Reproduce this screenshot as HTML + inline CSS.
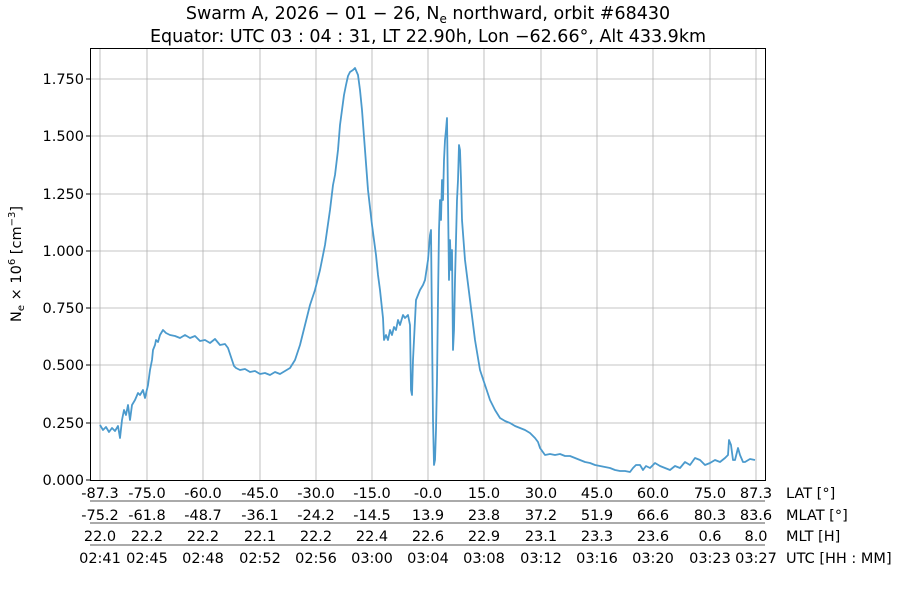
<!DOCTYPE html>
<html><head><meta charset="utf-8"><style>
body{margin:0;background:#fff;}
svg{font-family:"DejaVu Sans","Liberation Sans",sans-serif;}
</style></head><body>
<svg width="900" height="600" xmlns="http://www.w3.org/2000/svg">
<rect width="900" height="600" fill="#fff"/>
<g font-size="17.5" text-anchor="middle" fill="#000">
<text x="428" y="19">Swarm A,  2026 − 01 − 26,  N<tspan font-size="12" dy="4">e</tspan><tspan dy="-4"> northward,  orbit #68430</tspan></text>
<text x="428" y="42">Equator:  UTC 03 : 04 : 31,  LT 22.90h,  Lon  −62.66°,  Alt 433.9km</text>
</g>
<g stroke="#b0b0b0" stroke-width="0.8">
<line x1="147" y1="48" x2="147" y2="480"/><line x1="203" y1="48" x2="203" y2="480"/>
<line x1="260" y1="48" x2="260" y2="480"/><line x1="316" y1="48" x2="316" y2="480"/>
<line x1="372" y1="48" x2="372" y2="480"/><line x1="428" y1="48" x2="428" y2="480"/>
<line x1="484" y1="48" x2="484" y2="480"/><line x1="541" y1="48" x2="541" y2="480"/>
<line x1="597" y1="48" x2="597" y2="480"/><line x1="653" y1="48" x2="653" y2="480"/>
<line x1="710" y1="48" x2="710" y2="480"/><line x1="100" y1="48" x2="100" y2="480"/><line x1="756" y1="48" x2="756" y2="480"/>
<line x1="90" y1="423" x2="765" y2="423"/><line x1="90" y1="365" x2="765" y2="365"/>
<line x1="90" y1="308" x2="765" y2="308"/><line x1="90" y1="251" x2="765" y2="251"/>
<line x1="90" y1="194" x2="765" y2="194"/><line x1="90" y1="136" x2="765" y2="136"/>
<line x1="90" y1="79" x2="765" y2="79"/>
</g>
<polyline fill="none" stroke="#4b9acd" stroke-width="1.8" stroke-linejoin="round" points="100,425 103,430 106,427 109,432 112,428 115,431 118,426 120,438 122,420 124,410 126,415 128,405 130,420 132,405 135,400 138,393 140,395 143,390 145,398 148,385 150,370 152,360 153,350 155,345 156,340 158,342 160,335 163,330 166,333 170,335 175,336 180,338 185,335 190,338 195,336 200,341 205,340 210,343 215,339 220,345 225,344 228,348 230,354 232,360 234,366 236,368 240,370 245,369 250,372 255,371 260,374 265,373 270,375 275,372 280,374 285,371 290,368 295,360 300,345 305,325 310,305 315,290 320,270 325,245 330,210 333,185 335,175 338,150 340,125 342,110 344,95 346,85 348,76 350,72 353,70 355,68 358,75 360,90 362,110 365,150 368,190 372,225 376,255 378,275 380,290 383,318 384,340 386,335 388,340 390,330 392,335 394,327 396,330 398,320 400,325 403,315 405,318 408,315 410,325 411,390 412,395 413,360 414,340 416,300 418,295 420,290 423,285 425,280 428,260 430,235 431,230 432,330 433,420 434,465 435,460 436,430 437,380 438,300 439,230 440,200 441,220 442,180 443,200 444,160 445,140 446,130 447,118 448,200 449,280 450,240 451,270 452,250 453,350 454,330 455,280 456,240 457,200 458,180 459,145 460,150 461,180 462,220 465,260 470,300 475,340 480,370 485,385 490,400 495,410 500,418 505,421 510,423 515,426 520,428 525,430 530,433 535,438 538,442 540,448 545,455 550,454 555,455 560,454 565,456 570,456 575,458 580,460 585,462 590,463 595,465 600,466 605,467 610,468 615,470 620,471 625,471 630,472 633,468 636,465 640,465 643,470 646,466 650,468 655,463 660,466 665,468 670,470 675,466 680,468 685,462 690,465 695,458 700,460 705,465 710,463 715,460 720,462 725,458 728,455 729,440 731,445 733,460 735,460 738,448 740,455 743,462 745,462 750,459 755,460"/>
<rect x="90.5" y="48.5" width="675" height="432" fill="none" stroke="#000" stroke-width="1"/>
<g font-size="14.5" text-anchor="end" fill="#000">
<text x="84" y="485">0.000</text><text x="84" y="428">0.250</text><text x="84" y="370">0.500</text>
<text x="84" y="313">0.750</text><text x="84" y="256">1.000</text><text x="84" y="199">1.250</text>
<text x="84" y="141">1.500</text><text x="84" y="84">1.750</text>
</g>
<g stroke="#000"><line x1="86" y1="480" x2="90" y2="480"/><line x1="86" y1="423" x2="90" y2="423"/><line x1="86" y1="365" x2="90" y2="365"/><line x1="86" y1="308" x2="90" y2="308"/><line x1="86" y1="251" x2="90" y2="251"/><line x1="86" y1="194" x2="90" y2="194"/><line x1="86" y1="136" x2="90" y2="136"/><line x1="86" y1="79" x2="90" y2="79"/></g>
<text transform="translate(21,264) rotate(-90)" font-size="14.5" text-anchor="middle">N<tspan font-size="10" dy="3">e</tspan><tspan dy="-3"> × 10</tspan><tspan font-size="10" dy="-6">6</tspan><tspan dy="6"> [cm</tspan><tspan font-size="10" dy="-6">−3</tspan><tspan dy="6">]</tspan></text>
<g stroke="#555" stroke-width="1"><line x1="90" y1="501" x2="765" y2="501"/><line x1="90" y1="523" x2="765" y2="523"/><line x1="90" y1="545" x2="765" y2="545"/></g>
<g font-size="14.5" text-anchor="middle" fill="#000">
<text y="498"><tspan x="100">-87.3</tspan><tspan x="147">-75.0</tspan><tspan x="203">-60.0</tspan><tspan x="260">-45.0</tspan><tspan x="316">-30.0</tspan><tspan x="372">-15.0</tspan><tspan x="428">-0.0</tspan><tspan x="484">15.0</tspan><tspan x="541">30.0</tspan><tspan x="597">45.0</tspan><tspan x="653">60.0</tspan><tspan x="710">75.0</tspan><tspan x="756">87.3</tspan></text>
<text y="520"><tspan x="100">-75.2</tspan><tspan x="147">-61.8</tspan><tspan x="203">-48.7</tspan><tspan x="260">-36.1</tspan><tspan x="316">-24.2</tspan><tspan x="372">-14.5</tspan><tspan x="428">13.9</tspan><tspan x="484">23.8</tspan><tspan x="541">37.2</tspan><tspan x="597">51.9</tspan><tspan x="653">66.6</tspan><tspan x="710">80.3</tspan><tspan x="756">83.6</tspan></text>
<text y="541"><tspan x="100">22.0</tspan><tspan x="147">22.2</tspan><tspan x="203">22.2</tspan><tspan x="260">22.1</tspan><tspan x="316">22.2</tspan><tspan x="372">22.4</tspan><tspan x="428">22.6</tspan><tspan x="484">22.9</tspan><tspan x="541">23.1</tspan><tspan x="597">23.3</tspan><tspan x="653">23.6</tspan><tspan x="710">0.6</tspan><tspan x="756">8.0</tspan></text>
<text y="563"><tspan x="100">02:41</tspan><tspan x="147">02:45</tspan><tspan x="203">02:48</tspan><tspan x="260">02:52</tspan><tspan x="316">02:56</tspan><tspan x="372">03:00</tspan><tspan x="428">03:04</tspan><tspan x="484">03:08</tspan><tspan x="541">03:12</tspan><tspan x="597">03:16</tspan><tspan x="653">03:20</tspan><tspan x="710">03:23</tspan><tspan x="756">03:27</tspan></text>
</g>
<g font-size="14.5" fill="#000">
<text x="786" y="498">LAT [°]</text><text x="786" y="520">MLAT [°]</text>
<text x="786" y="541">MLT [H]</text><text x="786" y="563">UTC [HH : MM]</text>
</g>
</svg>
</body></html>
